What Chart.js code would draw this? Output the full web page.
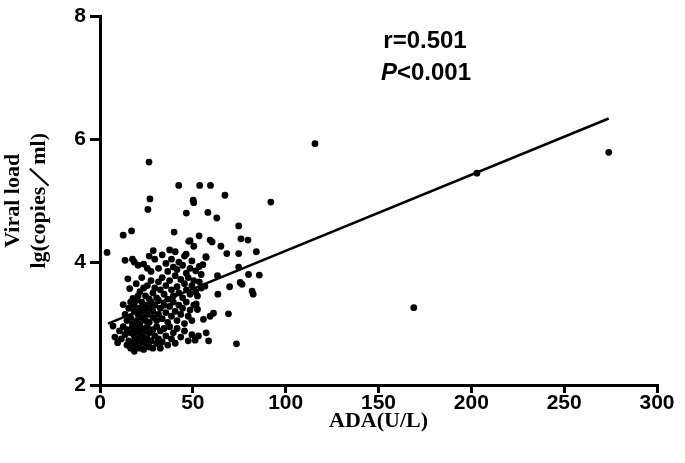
<!DOCTYPE html>
<html>
<head>
<meta charset="utf-8">
<script src="https://cdn.jsdelivr.net/npm/chart.js@4.4.1/dist/chart.umd.min.js"></script>
<style>
  html, body { margin: 0; padding: 0; background: #fff; }
  #wrap { width: 685px; height: 463px; }
</style>
</head>
<body>
<div id="wrap"><canvas id="adaChart" width="685" height="463"></canvas></div>
<script>
// ADA (U/L) VALUES
var adaValues = [
  3.8, 26.4, 115.8, 92, 203, 274, 169, 73.5,
  42.4, 26.9, 50.2, 25.8, 46.5, 12.5, 17, 39.9, 47.8, 50.5, 28.7, 40.5, 46.4,
  53.7, 59.5, 67.3, 50.5, 58.1, 62.9, 74.7, 53.4, 59.3, 60.4, 48.5, 75.9, 79.7, 65.1, 68.3, 74.7, 84.2, 57,
  57.2, 55.4, 74.7, 63.3, 80, 85.8, 75.5, 76.5, 69.8, 63.5, 81.9, 82.5, 56.5, 51.8, 52.5, 69.2, 61.1, 59.3, 55.7, 57.2, 53, 58.5, 51.2,
  13.5, 17.5, 18.5, 20.5, 23.5, 26.5, 29.5, 31.5, 33.5, 35.5, 36.5, 38.5, 39.5, 41.5, 42.5, 44.5, 45.5, 46.5, 48.5, 49.5, 51.5, 53.5, 54.5, 37.5, 27.5, 25.5,
  15, 16, 17.7, 19.5, 21.5, 22.5, 24.5, 25.5, 27.5, 28.5, 29.5, 30.5, 31.5, 32.5, 33.5, 34.5, 35.5, 36.5, 37.5, 38.5, 39.5, 40.5, 41.5, 42.5, 43.5, 44.5, 45.5, 46.5, 47.5, 48.5, 49.5, 50.5, 51.5, 52.5, 53.5, 54.5, 23.5, 20.5, 26.5,
  12.5, 13.5, 14.5, 15.5, 16.5, 16.5, 17.5, 18.5, 18.5, 19.5, 19.5, 20.5, 21.5, 21.5, 22.5, 22.5, 23.5, 24.5, 24.5, 25.5, 26.5, 26.5, 27.5, 28.5, 28.5, 29.5, 30.5, 31.5, 31.5, 32.5, 33.5, 34.5, 35.5, 36.5, 37.5, 38.5, 39.5, 40.5, 41.5, 42.5, 43.5, 44.5, 45.5, 46.5, 47.5, 48.5, 49.5, 50.5,
  7, 8, 9.5, 10.5, 11.5, 12.5, 13.5, 14.5, 14.5, 15.5, 16.5, 16.5, 17.5, 17.5, 18.5, 18.5, 19.5, 19.5, 20.5, 20.5, 21.5, 21.5, 22.5, 22.5, 23.5, 23.5, 24.5, 24.5, 25.5, 25.5, 26.5, 26.5, 27.5, 28.5, 28.5, 29.5, 30.5, 30.5, 31.5, 32.5, 32.5, 33.5, 34.5, 35.5, 36.5, 37.5, 38.5, 39.5, 40.5, 41.5, 43.5, 45.5, 47.5, 49.5
];
// VIRAL LOAD lg(copies/ml), SAME ORDER
var viralValues = [
  4.16, 5.63, 5.93, 4.98, 5.45, 5.79, 3.26, 2.67,
  5.25, 5.03, 5.01, 4.86, 4.80, 4.44, 4.51, 4.49, 4.34, 4.26, 4.19, 4.17, 4.13,
  5.25, 5.25, 5.09, 4.97, 4.81, 4.72, 4.59, 4.43, 4.36, 4.33, 4.35, 4.38, 4.36, 4.26, 4.14, 4.14, 4.17, 4.09,
  4.08, 3.96, 3.92, 3.78, 3.80, 3.79, 3.67, 3.64, 3.60, 3.48, 3.53, 3.48, 3.61, 3.32, 3.23, 3.16, 3.17, 3.12, 3.07, 2.85, 2.80, 2.72, 2.73,
  4.03, 4.05, 4.0, 3.95, 3.97, 4.1, 4.05, 3.9, 4.12, 3.98, 3.85, 4.05, 3.92, 3.88, 4.0, 3.95, 4.1, 3.82, 3.9, 4.02, 3.86, 3.93, 3.8, 4.2, 3.85, 3.9,
  3.73, 3.57, 3.41, 3.65, 3.52, 3.75, 3.45, 3.62, 3.7, 3.5, 3.58, 3.42, 3.68, 3.55, 3.75, 3.48, 3.62, 3.4, 3.7, 3.55, 3.45, 3.78, 3.6, 3.5, 3.72, 3.42, 3.65, 3.55, 3.75, 3.48, 3.62, 3.7, 3.52, 3.45, 3.68, 3.58, 3.58, 3.45, 3.4,
  3.31, 3.15, 3.05, 3.25, 3.1, 3.35, 3.0, 3.2, 3.3, 3.05, 3.38, 3.15, 3.25, 3.0, 3.35, 3.1, 3.2, 3.05, 3.3, 3.15, 3.25, 3.02, 3.35, 3.1, 3.2, 3.3, 3.05, 3.15, 3.38, 3.25, 3.08, 3.3, 3.18, 3.02, 3.28, 3.12, 3.35, 3.2, 3.05, 3.3, 3.15, 3.25, 3.0, 3.35, 3.12, 3.22, 3.05, 3.3,
  2.96, 2.78, 2.69, 2.88, 2.75, 2.95, 2.82, 2.65, 2.9, 2.72, 2.85, 2.6, 2.95, 2.7, 2.8, 2.55, 2.9, 2.65, 2.75, 2.98, 2.6, 2.85, 2.7, 2.92, 2.78, 2.58, 2.88, 2.68, 2.95, 2.75, 2.62, 2.85, 2.72, 2.9, 2.6, 2.8, 2.95, 2.68, 2.75, 2.88, 2.6, 2.7, 2.92, 2.8, 2.65, 2.95, 2.75, 2.85, 2.68, 2.92, 2.78, 2.88, 2.72, 2.82
];
// REGRESSION LINE END POINTS
var fitX = [4.3, 274];
var fitY = [3.0, 6.34];
// TICK LABELS
var xTicks = [0, 50, 100, 150, 200, 250, 300];
var yTicks = [2, 4, 6, 8];
var statLines = ['r=0.501', '<0.001'];

var points = adaValues.map(function (v, i) { return { x: v, y: viralValues[i] }; });
var fitPoints = fitX.map(function (v, i) { return { x: v, y: fitY[i] }; });

// DRAWS r AND P TEXT
var statsPlugin = {
  id: 'stats',
  afterDraw: function (chart) {
    var ctx = chart.ctx;
    ctx.save();
    ctx.fillStyle = '#000';
    ctx.textBaseline = 'alphabetic';
    ctx.font = 'bold 24px "Liberation Sans", Arial, sans-serif';
    ctx.textAlign = 'center';
    ctx.fillText(statLines[0], 425, 48);
    ctx.textAlign = 'left';
    ctx.font = 'italic bold 24px "Liberation Sans", Arial, sans-serif';
    var pw = ctx.measureText('P').width;
    ctx.font = 'bold 24px "Liberation Sans", Arial, sans-serif';
    var rw = ctx.measureText(statLines[1]).width;
    var sx = 426 - (pw + rw) / 2;
    ctx.font = 'italic bold 24px "Liberation Sans", Arial, sans-serif';
    ctx.fillText('P', sx, 80);
    ctx.font = 'bold 24px "Liberation Sans", Arial, sans-serif';
    ctx.fillText(statLines[1], sx + pw, 80);
    ctx.restore();
  }
};

var tickFont = { family: '"Liberation Sans", Arial, sans-serif', size: 21, weight: 'bold' };
var titleFont = { family: '"Liberation Serif", "Times New Roman", serif', size: 22, weight: 'bold' };

new Chart(document.getElementById('adaChart').getContext('2d'), {
  type: 'scatter',
  data: {
    datasets: [
      {
        label: 'patients',
        data: points,
        backgroundColor: '#000',
        borderWidth: 0,
        pointRadius: 3.4,
        clip: false
      },
      {
        label: 'fit',
        type: 'line',
        data: fitPoints,
        borderColor: '#000',
        borderWidth: 2.5,
        pointRadius: 0,
        fill: false,
        clip: false
      }
    ]
  },
  options: {
    responsive: false,
    animation: false,
    layout: { padding: { left: 0, top: 10, right: 28, bottom: 0 } },
    plugins: { legend: { display: false }, tooltip: { enabled: false } },
    scales: {
      x: {
        type: 'linear',
        min: 0, max: 300,
        afterBuildTicks: function (axis) { axis.ticks = xTicks.map(function (v) { return { value: v }; }); },
        afterFit: function (axis) { axis.height = 78; },
        border: { display: true, color: '#000', width: 3 },
        grid: { drawOnChartArea: false, drawTicks: true, tickLength: 8, color: '#000', lineWidth: 3 },
        ticks: { color: '#000', font: tickFont, padding: -2, maxRotation: 0 },
        title: { display: true, text: 'ADA(U/L)', color: '#000', font: titleFont, padding: { top: 0, bottom: 28 } }
      },
      y: {
        type: 'linear',
        min: 2, max: 8,
        afterBuildTicks: function (axis) { axis.ticks = yTicks.map(function (v) { return { value: v }; }); },
        afterFit: function (axis) { axis.width = 100; },
        border: { display: true, color: '#000', width: 3 },
        grid: { drawOnChartArea: false, drawTicks: true, tickLength: 10, color: '#000', lineWidth: 3 },
        ticks: { color: '#000', font: tickFont, padding: 4 },
        title: { display: true, text: ['Viral load', 'lg(copies／ml)'], color: '#000', font: titleFont, padding: { top: 0, bottom: 0 } }
      }
    }
  },
  plugins: [statsPlugin]
});
</script>
</body>
</html>
